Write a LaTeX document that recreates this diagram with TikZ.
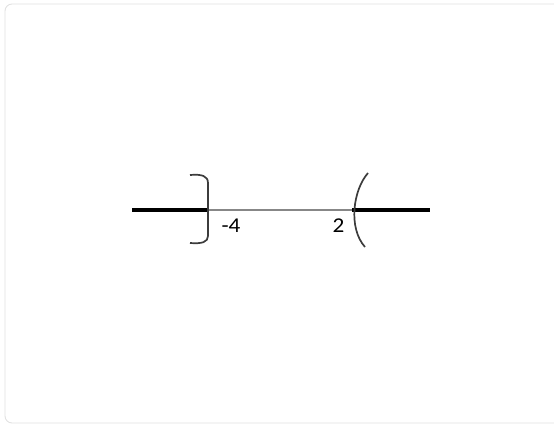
\documentclass[tikz,border=0pt]{standalone}
\usepackage{fontspec}
\setmainfont{Carlito}
\begin{document}
\begin{tikzpicture}[x=0.03cm, y=-0.03cm]

  \definecolor{frame}{RGB}{225, 225, 225}
  \definecolor{gapline}{RGB}{135, 135, 135}
  \definecolor{endmark}{RGB}{60, 60, 60}

  \tikzset{
    ray/.style={line width=4.6*0.8536pt, black},
    between/.style={line width=2.4*0.8536pt, gapline},
    bound/.style={line width=1.7*0.8536pt, endmark},
    tick/.style={font=\fontsize{18}{20}\selectfont, inner sep=0pt, xscale=1.1}
  }

  \useasboundingbox (0,0) rectangle (554,425);

  % Frame
  \draw[frame, line width=0.8pt, rounded corners=6] (5,4) rectangle (570,423);

  % Points on the line
  \coordinate (west) at (132,210);
  \coordinate (minusfour) at (208,210);
  \coordinate (two) at (352,210);
  \coordinate (east) at (430,210);

  % Gap between the two rays (grey)
  \draw[between] (minusfour) -- (two);

  % Solution rays (black)
  \draw[ray] (west) -- (minusfour);
  \draw[ray] (two) -- (east);

  % Closed end at -4
  \draw[bound] (190,175) .. controls (202,174) and (208,176) .. (208,183)
    -- (208,236) .. controls (208,242) and (202,244) .. (190,243);

  % Open end at 2
  \draw[bound] (368,173) .. controls (353,190) and (348,228) .. (365,247);

  % Labels
  \node[tick] (lblfour) at (231,226) {-4};
  \node[tick] (lbltwo) at (338.5,226) {2};

\end{tikzpicture}
\end{document}
